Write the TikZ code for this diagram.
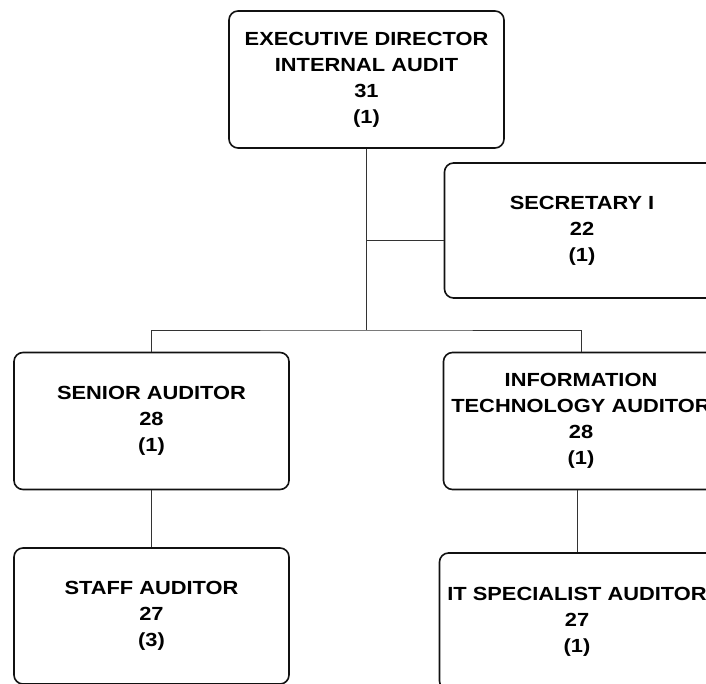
\documentclass[tikz,border=0pt]{standalone}
\usepackage{fontspec}
\setmainfont{Liberation Sans}[FakeStretch=1.15]
\usetikzlibrary{positioning,calc}
\definecolor{ink}{HTML}{111111}
\definecolor{wire}{HTML}{333333}
\tikzset{
  post/.style={draw=ink,line width=1.6pt,rounded corners=9pt,fill=white,align=center,
    minimum width=275pt,minimum height=137pt,inner sep=2pt,
    font=\fontsize{19}{26}\selectfont\bfseries},
  wireline/.style={draw=wire,line width=0.9pt},
}
\begin{document}
\begin{tikzpicture}[x=1pt,y=1pt]
  \useasboundingbox (0,0) rectangle (706,-684);
  \clip (0,0) rectangle (706,-684);
  % posts
  \node[post] (exec) at (366.5,-79.5) {EXECUTIVE DIRECTOR\\INTERNAL AUDIT\\31\\(1)};
  \node[post,minimum height=135pt] (sec) at (582,-230.5) {SECRETARY I\\22\\(1)};
  \node[post] (sen) at (151.5,-421) {SENIOR AUDITOR\\28\\(1)};
  \node[post] (ita) at (581,-421) {INFORMATION\\TECHNOLOGY AUDITOR\\28\\(1)};
  \node[post,minimum height=136pt] (staff) at (151.5,-616) {STAFF AUDITOR\\27\\(3)};
  \node[post] (its) at (577,-621.5) {IT SPECIALIST AUDITOR\\27\\(1)};
  \coordinate (bus) at (366.5,-330);
  \coordinate (tap) at (366.5,-240);
  % lines
  \draw[wireline] (exec.south) -- (bus);
  \draw[wireline] (tap) -- (tap -| sec.west);
  \draw[wireline] (sen.north) |- (bus) -| (ita.north);
  \draw[wireline] (sen.south) -- (staff.north);
  \draw[wireline] (ita.south -| its.north) -- (its.north);
\end{tikzpicture}
\end{document}
